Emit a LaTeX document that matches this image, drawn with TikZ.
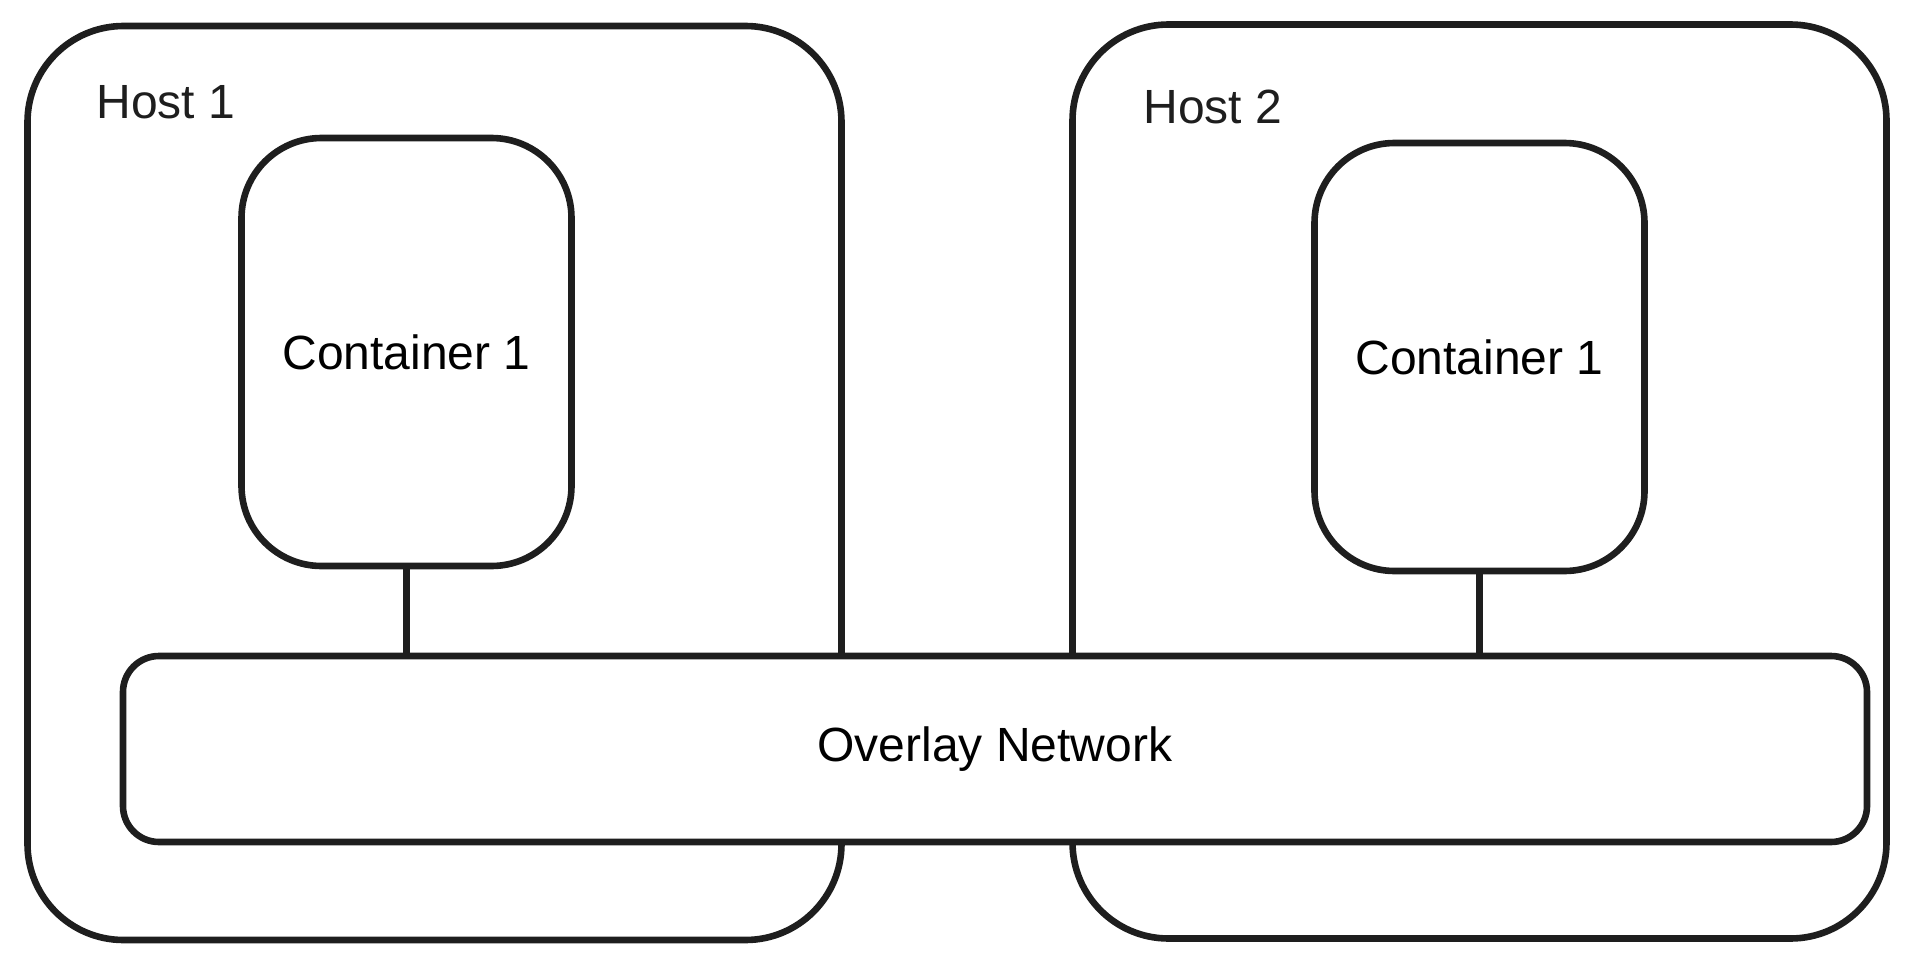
\documentclass[tikz,border=0pt]{standalone}
\usepackage{fontspec}
\setmainfont{Liberation Sans}
\usepackage{tikz}
\definecolor{ink}{RGB}{30,30,30}
\tikzset{
  hostbox/.style={draw=ink, line width=3.3pt, rounded corners=48pt, minimum width=407pt, minimum height=457pt},
  contbox/.style={draw=ink, line width=3.3pt, rounded corners=40pt, minimum width=165pt, minimum height=214pt, font=\fontsize{24}{28}\selectfont},
  netbox/.style={draw=ink, fill=white, line width=3.3pt, rounded corners=18pt, minimum width=872pt, minimum height=93pt, font=\fontsize{24}{28}\selectfont},
  hostlabel/.style={anchor=west, inner sep=0pt, text=ink, font=\fontsize{24}{28}\selectfont},
  link/.style={draw=ink, line width=3.3pt}
}
\begin{document}
\begin{tikzpicture}[x=0.5pt,y=0.5pt,yscale=-1]
\useasboundingbox (0,0) rectangle (1913,969);

% hosts
\node[hostbox] (host1) at (434.5,483) {};
\node[hostbox] (host2) at (1479.5,481.5) {};
\node[hostlabel] (host1lbl) at ([xshift=36pt,yshift=40pt]host1.north west) {Host 1};
\node[hostlabel] (host2lbl) at ([xshift=37pt,yshift=43pt]host2.north west) {Host 2};

% containers
\node[contbox] (cont1) at (406.5,352) {Container 1};
\node[contbox] (cont2) at (1479.5,357) {Container 1};

% overlay network
\node[netbox] (overlay) at (995,749) {Overlay Network};

\draw[link] (cont1.south) -- (cont1.south |- overlay.north);
\draw[link] (cont2.south) -- (cont2.south |- overlay.north);

\end{tikzpicture}
\end{document}
